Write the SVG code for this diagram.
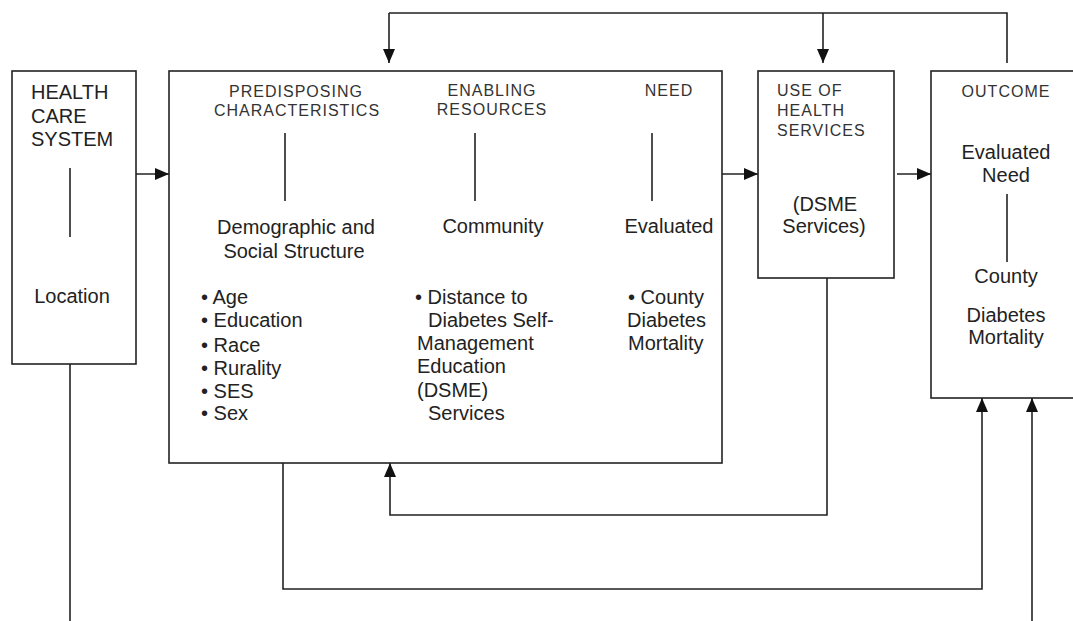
<svg xmlns="http://www.w3.org/2000/svg" width="1073" height="621" viewBox="0 0 1073 621">
<style>
  .box { fill: #fff; stroke: #222; stroke-width: 1.6; }
  .ln { fill: none; stroke: #222; stroke-width: 1.6; }
  .arr { fill: none; stroke: #222; stroke-width: 1.6; marker-end: url(#ah); }
  .t { font-family: "Liberation Sans", Arial, sans-serif; font-size: 20px; fill: #222; }
  .h { font-family: "Liberation Sans", Arial, sans-serif; font-size: 16px; letter-spacing: 1px; fill: #333; }
  .m { text-anchor: middle; }
</style>
<defs>
  <marker id="ah" markerUnits="userSpaceOnUse" markerWidth="14" markerHeight="14" viewBox="0 0 14 14" refX="14" refY="7" orient="auto">
    <path d="M0,1 L14,7 L0,13 Z" fill="#111"/>
  </marker>
</defs>
<rect width="1073" height="621" fill="#fff"/>

<g id="connectors">
  <!-- top feedback -->
  <path class="ln" d="M1007,63 V13 H389"/>
  <path class="arr" d="M389,13 V63"/>
  <path class="arr" d="M823,13 V63"/>
  <!-- horizontal flow -->
  <path class="arr" d="M136,174 H169"/>
  <path class="arr" d="M375,174 H412"/>
  <path class="arr" d="M551,174 H589"/>
  <path class="arr" d="M722,174 H758"/>
  <path class="arr" d="M897,174 H931"/>
  <!-- bottom loops -->
  <path class="ln" d="M70,364 V621"/>
  <path class="arr" d="M827,278 V515 H390 V463"/>
  <path class="arr" d="M283,463 V589 H982 V398"/>
  <path class="arr" d="M1032,621 V398"/>
</g>

<g id="health-care-system">
  <rect class="box" x="12" y="71" width="124" height="293"/>
  <text class="t" x="31" y="99">HEALTH</text>
  <text class="t" x="31" y="123">CARE</text>
  <text class="t" x="31" y="146">SYSTEM</text>
  <path class="ln" d="M70,168 V237"/>
  <text class="t m" x="72" y="303">Location</text>
</g>

<g id="main-box">
  <rect class="box" x="169" y="71" width="553" height="392"/>
</g>

<g id="predisposing">
  <text class="h m" x="296" y="97">PREDISPOSING</text>
  <text class="h m" x="297" y="116">CHARACTERISTICS</text>
  <path class="ln" d="M285,133 V201"/>
  <text class="t m" x="296" y="234">Demographic and</text>
  <text class="t m" x="294" y="258">Social Structure</text>
  <text class="t" x="201" y="304">• Age</text>
  <text class="t" x="201" y="327">• Education</text>
  <text class="t" x="201" y="352">• Race</text>
  <text class="t" x="201" y="375">• Rurality</text>
  <text class="t" x="201" y="398">• SES</text>
  <text class="t" x="201" y="420">• Sex</text>
</g>

<g id="enabling">
  <text class="h m" x="492" y="96">ENABLING</text>
  <text class="h m" x="492" y="115">RESOURCES</text>
  <path class="ln" d="M475,133 V201"/>
  <text class="t m" x="493" y="233">Community</text>
  <text class="t" x="415" y="304">• Distance to</text>
  <text class="t" x="428" y="327">Diabetes Self-</text>
  <text class="t" x="417" y="350">Management</text>
  <text class="t" x="417" y="373">Education</text>
  <text class="t" x="417" y="397">(DSME)</text>
  <text class="t" x="428" y="420">Services</text>
</g>

<g id="need">
  <text class="h m" x="669" y="96">NEED</text>
  <path class="ln" d="M652,133 V201"/>
  <text class="t m" x="669" y="233">Evaluated</text>
  <text class="t" x="628" y="304">• County</text>
  <text class="t" x="627" y="327">Diabetes</text>
  <text class="t" x="628" y="350">Mortality</text>
</g>

<g id="use-of-health-services">
  <rect class="box" x="758" y="71" width="136" height="207"/>
  <text class="h" x="777" y="96">USE OF</text>
  <text class="h" x="777" y="116">HEALTH</text>
  <text class="h" x="777" y="136">SERVICES</text>
  <text class="t m" x="825" y="211">(DSME</text>
  <text class="t m" x="824" y="233">Services)</text>
</g>

<g id="outcome">
  <rect class="box" x="931" y="71" width="150" height="327"/>
  <text class="h m" x="1006" y="97">OUTCOME</text>
  <text class="t m" x="1006" y="159">Evaluated</text>
  <text class="t m" x="1006" y="182">Need</text>
  <path class="ln" d="M1007,194 V262"/>
  <text class="t m" x="1006" y="283">County</text>
  <text class="t m" x="1006" y="322">Diabetes</text>
  <text class="t m" x="1006" y="344">Mortality</text>
</g>
</svg>
